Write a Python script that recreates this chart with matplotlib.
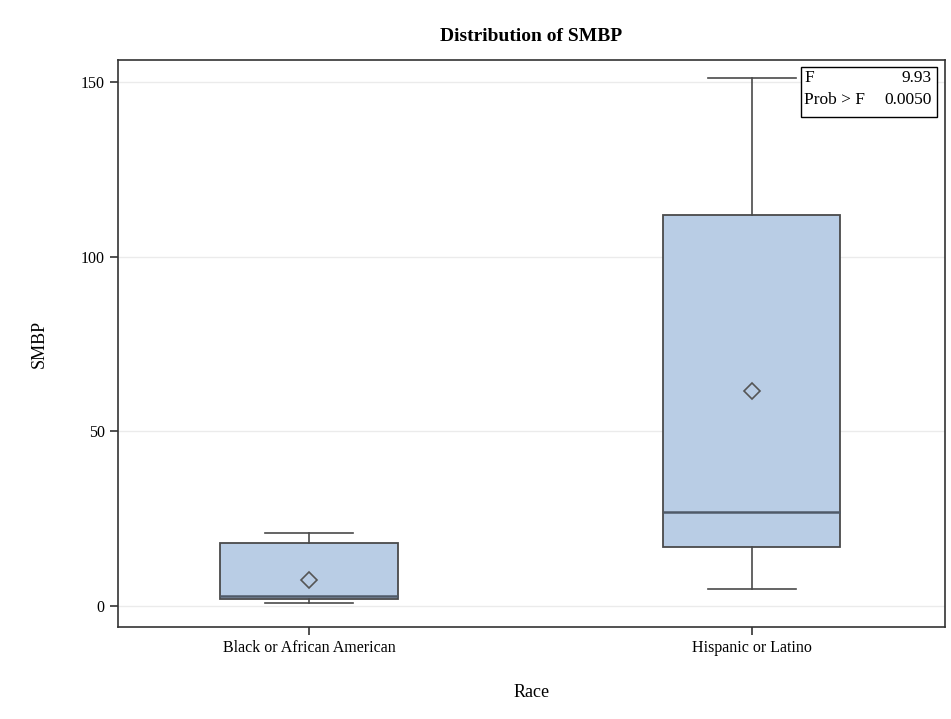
import matplotlib.pyplot as plt
from matplotlib.patches import Rectangle
import numpy as np

# values
races = ["Black or African American", "Hispanic or Latino"]
whisker_lo = [1, 5]
q1 = [2, 17]
medians = [3, 27]
q3 = [18, 112]
whisker_hi = [21, 151]
means = [7.4, 61.5]
f_value = "9.93"
prob_f = "0.0050"

plt.rcParams["font.family"] = ["Liberation Serif", "DejaVu Serif"]

fig = plt.figure(figsize=(9.51, 7.19), dpi=100)
ax = fig.add_axes([0.1241, 0.128, 0.8696, 0.7886])

stats = []
for i in range(len(races)):
    stats.append({
        "label": races[i], "whislo": whisker_lo[i], "q1": q1[i], "med": medians[i],
        "q3": q3[i], "whishi": whisker_hi[i], "mean": means[i], "fliers": [],
    })

edge = "#4a4a4a"
ax.bxp(stats, positions=range(len(races)), widths=0.40, patch_artist=True,
       showmeans=True, meanline=False,
       boxprops=dict(facecolor="#b9cde5", edgecolor=edge, linewidth=1.3),
       medianprops=dict(color="#4f5a68", linewidth=1.8),
       whiskerprops=dict(color=edge, linewidth=1.2),
       capprops=dict(color=edge, linewidth=1.2),
       capwidths=0.2,
       meanprops=dict(marker="D", markersize=8, markerfacecolor="none",
                      markeredgecolor="#555555", markeredgewidth=1.2))

ax.set_xlim(-0.431, 1.436)
ax.set_ylim(-6, 156.3)
ax.set_yticks([0, 50, 100, 150])
ax.yaxis.grid(True, color="#ebebeb", linewidth=1)
ax.set_axisbelow(True)

for s in ax.spines.values():
    s.set_color("#333333")
    s.set_linewidth(1.2)
ax.tick_params(labelsize=11.5, colors="#333333", length=6, width=1.2)
ax.tick_params(labelcolor="black")

ax.set_xlabel("Race", fontsize=13, labelpad=20)
ax.set_ylabel("SMBP", fontsize=13, labelpad=24)
ax.set_title("Distribution of SMBP", fontsize=14, fontweight="bold", pad=14)

# F test inset
ax.add_patch(Rectangle((0.8259, 0.8995), 0.1644, 0.0882, transform=ax.transAxes,
                       facecolor="white", edgecolor="black", linewidth=1, zorder=5))
rows = [("F", f_value, 0.968), ("Prob > F", prob_f, 0.929)]
for name, val, yy in rows:
    ax.text(0.8295, yy, name, transform=ax.transAxes, ha="left", va="center",
            fontsize=12.5, zorder=6)
    ax.text(0.9840, yy, val, transform=ax.transAxes, ha="right", va="center",
            fontsize=12.5, zorder=6)

fig.savefig("out.png", dpi=100)
